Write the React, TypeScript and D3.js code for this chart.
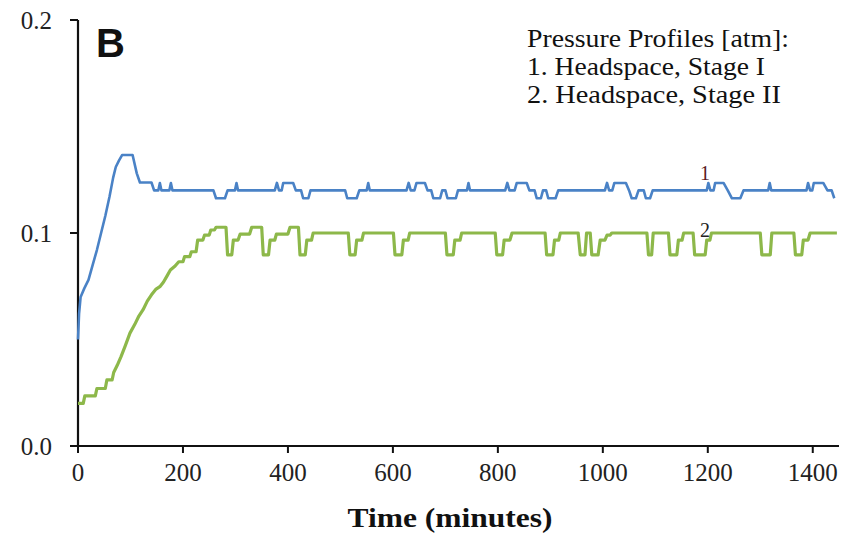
import React from "react";
import * as d3 from "d3";

// Stage I headspace pressure [atm] vs time (minutes)
const stage1: [number, number][] = [
  [0, 0.05], [2, 0.062], [5, 0.07], [12, 0.074], [20, 0.078], [28, 0.085], [36, 0.092], [44, 0.1],
  [52, 0.108], [60, 0.117], [67, 0.126], [72, 0.131], [78, 0.134], [84, 0.1366], [104, 0.1366],
  [112, 0.128], [118, 0.1237], [140, 0.1237], [145, 0.12], [153, 0.12], [156, 0.1235], [159, 0.12],
  [174, 0.12], [177, 0.1235], [180, 0.12], [258, 0.12], [263, 0.1163], [280, 0.1163], [285, 0.12],
  [299, 0.12], [302, 0.1235], [305, 0.12], [375, 0.12], [379, 0.1235], [383, 0.12], [388, 0.12],
  [391, 0.1235], [410, 0.1235], [415, 0.12], [425, 0.12], [429, 0.1163], [439, 0.1163], [443, 0.12],
  [509, 0.12], [513, 0.1163], [531, 0.1163], [536, 0.12], [550, 0.12], [553, 0.1235], [556, 0.12],
  [626, 0.12], [630, 0.1235], [634, 0.12], [641, 0.12], [645, 0.1235], [661, 0.1235], [666, 0.12],
  [673, 0.12], [677, 0.1163], [690, 0.1163], [694, 0.12], [700, 0.12], [704, 0.1163], [720, 0.1163],
  [724, 0.12], [741, 0.12], [744, 0.1235], [747, 0.12], [814, 0.12], [818, 0.1235], [822, 0.12],
  [832, 0.12], [836, 0.1235], [855, 0.1235], [860, 0.12], [870, 0.12], [874, 0.1163], [882, 0.1163],
  [886, 0.12], [892, 0.12], [896, 0.1163], [910, 0.1163], [915, 0.12], [1004, 0.12], [1008, 0.1235],
  [1012, 0.12], [1018, 0.12], [1022, 0.1235], [1044, 0.1235], [1050, 0.12], [1055, 0.1163],
  [1063, 0.1163], [1068, 0.12], [1078, 0.12], [1082, 0.1163], [1090, 0.1163], [1095, 0.12],
  [1198, 0.12], [1201, 0.1235], [1205, 0.12], [1211, 0.12], [1214, 0.1235], [1230, 0.1235],
  [1238, 0.12], [1246, 0.1163], [1262, 0.1163], [1268, 0.12], [1315, 0.12], [1318, 0.1235],
  [1321, 0.12], [1388, 0.12], [1391, 0.1235], [1395, 0.12], [1399, 0.12], [1402, 0.1235],
  [1420, 0.1235], [1428, 0.12], [1436, 0.12], [1441, 0.1163],
];

// Stage II headspace pressure [atm] vs time (minutes)
const stage2: [number, number][] = [
  [0, 0.02], [10, 0.02], [13, 0.0235], [33, 0.0235], [36, 0.027], [52, 0.027], [55, 0.031], [65, 0.031],
  [68, 0.0345], [75, 0.038], [82, 0.042], [90, 0.047], [99, 0.053], [108, 0.057], [116, 0.061],
  [124, 0.064], [132, 0.068], [140, 0.071], [148, 0.0735], [156, 0.0748], [163, 0.077], [170, 0.08],
  [176, 0.0826], [185, 0.0845], [192, 0.0865], [200, 0.0865], [203, 0.0889], [213, 0.0889],
  [216, 0.0912], [225, 0.0912], [228, 0.0967], [238, 0.0967], [241, 0.099], [250, 0.099],
  [253, 0.1014], [260, 0.1014], [263, 0.1027], [282, 0.1027], [285, 0.0897], [293, 0.0897],
  [296, 0.0967], [305, 0.0967], [309, 0.0995], [327, 0.0995], [331, 0.1027], [350, 0.1027],
  [353, 0.0897], [363, 0.0897], [366, 0.0967], [375, 0.0967], [378, 0.0995], [400, 0.0995],
  [404, 0.1027], [420, 0.1027], [423, 0.0897], [433, 0.0897], [436, 0.0967], [445, 0.0967],
  [448, 0.1], [515, 0.1], [518, 0.0897], [528, 0.0897], [531, 0.0967], [541, 0.0967], [544, 0.1],
  [601, 0.1], [604, 0.0897], [617, 0.0897], [620, 0.0967], [629, 0.0967], [632, 0.1], [700, 0.1],
  [703, 0.0897], [715, 0.0897], [718, 0.0967], [728, 0.0967], [731, 0.1], [795, 0.1], [798, 0.0897],
  [809, 0.0897], [812, 0.0967], [823, 0.0967], [827, 0.1], [890, 0.1], [893, 0.0897], [905, 0.0897],
  [908, 0.0967], [916, 0.0967], [919, 0.1], [953, 0.1], [957, 0.0897], [966, 0.0897], [969, 0.1],
  [976, 0.1], [979, 0.0897], [991, 0.0897], [995, 0.0967], [1004, 0.0967], [1008, 0.099],
  [1014, 0.099], [1017, 0.1], [1084, 0.1], [1087, 0.0897], [1093, 0.0897], [1096, 0.1], [1125, 0.1],
  [1128, 0.0897], [1141, 0.0897], [1144, 0.0967], [1151, 0.0967], [1154, 0.1], [1172, 0.1],
  [1175, 0.0897], [1195, 0.0897], [1198, 0.0967], [1204, 0.0967], [1207, 0.1], [1300, 0.1],
  [1303, 0.0897], [1319, 0.0897], [1322, 0.1], [1364, 0.1], [1367, 0.0897], [1379, 0.0897],
  [1382, 0.0967], [1391, 0.0967], [1395, 0.1], [1446, 0.1],
];

const xTicks = [0, 200, 400, 600, 800, 1000, 1200, 1400];
const yTicks = [0, 0.1, 0.2];
const yTickLabels = ["0.0", "0.1", "0.2"];
const legendLines = ["Pressure Profiles [atm]:", "1. Headspace, Stage I", "2. Headspace, Stage II"];
const legendWidths = [262, 238, 254];
const xTitle = "Time (minutes)";
const panelLabel = "B";

const W = 845;
const H = 533;
const serif = "'Liberation Serif', 'Times New Roman', serif";

export default function App() {
  const x = d3.scaleLinear().domain([0, 1450]).range([78, 839]);
  const y = d3.scaleLinear().domain([0, 0.2]).range([446, 20]);
  const line = d3
    .line<[number, number]>()
    .x((d) => x(d[0]))
    .y((d) => y(d[1]));

  return (
    <svg
      width={W}
      height={H}
      viewBox={`0 0 ${W} ${H}`}
      style={{ position: "absolute", left: 0, top: 0, background: "#fff" }}
    >
      <rect x={0} y={0} width={W} height={H} fill="#fff" />
      {/* axes */}
      <line x1={x(0)} x2={x(0)} y1={y(0.2)} y2={y(0)} stroke="#111" strokeWidth={2.2} />
      <line x1={70} x2={x(1450)} y1={y(0)} y2={y(0)} stroke="#111" strokeWidth={2} />
      {yTicks.map((t, i) => (
        <g key={"y" + i}>
          <line x1={70} x2={x(0)} y1={y(t)} y2={y(t)} stroke="#111" strokeWidth={2} />
          <text
            x={52}
            y={y(t)}
            dy="0.35em"
            textAnchor="end"
            fontFamily={serif}
            fontSize={25}
            fill="#222"
          >
            {yTickLabels[i]}
          </text>
        </g>
      ))}
      {xTicks.map((t) => (
        <g key={"x" + t}>
          <line x1={x(t)} x2={x(t)} y1={y(0)} y2={y(0) + 7} stroke="#111" strokeWidth={2} />
          <text
            x={x(t)}
            y={481}
            textAnchor="middle"
            fontFamily={serif}
            fontSize={25}
            fill="#222"
          >
            {t}
          </text>
        </g>
      ))}
      <text
        x={450}
        y={527}
        textAnchor="middle"
        fontFamily={serif}
        fontWeight="bold"
        fontSize={28}
        textLength={205}
        lengthAdjust="spacingAndGlyphs"
        fill="#111"
      >
        {xTitle}
      </text>
      {/* series */}
      <path d={line(stage2) || ""} fill="none" stroke="#8DB84A" strokeWidth={3.2} strokeLinejoin="round" />
      <path d={line(stage1) || ""} fill="none" stroke="#4A82C6" strokeWidth={2.6} strokeLinejoin="round" />
      {/* series labels */}
      <text x={705} y={180} textAnchor="middle" fontFamily={serif} fontSize={20} fill="#5a1a22">1</text>
      <text x={705} y={237} textAnchor="middle" fontFamily={serif} fontSize={20} fill="#222">2</text>
      {/* panel label */}
      <text
        x={96}
        y={57}
        fontFamily="'Liberation Sans', Arial, sans-serif"
        fontWeight="bold"
        fontSize={40}
        fill="#111"
      >
        {panelLabel}
      </text>
      {/* legend text */}
      {legendLines.map((s, i) => (
        <text
          key={s}
          x={527}
          y={47 + i * 28}
          fontFamily={serif}
          fontSize={25}
          textLength={legendWidths[i]}
          lengthAdjust="spacingAndGlyphs"
          fill="#111"
        >
          {s}
        </text>
      ))}
    </svg>
  );
}
